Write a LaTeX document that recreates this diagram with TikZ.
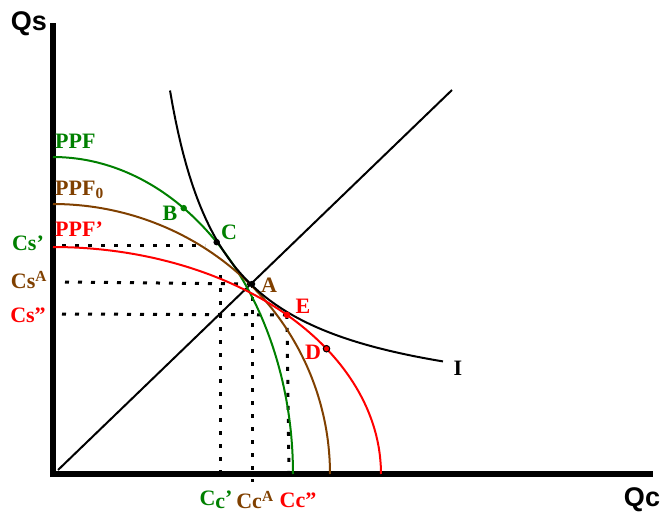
\documentclass[tikz,border=0pt]{standalone}
\usepackage{fontspec}
\setmainfont{Liberation Serif}
\setsansfont{Liberation Sans}
\usepackage{tikz}
\usetikzlibrary{positioning,calc}
\definecolor{ppfgreen}{RGB}{0,128,0}
\definecolor{ppfbrown}{RGB}{128,64,0}
\definecolor{ppfred}{RGB}{255,0,0}

\begin{document}
\begin{tikzpicture}[x=1pt, y=-1pt,
    axis/.style={line width=5.5pt, line cap=butt},
    curve/.style={line width=2pt},
    guide/.style={line width=3pt, dash pattern=on 4pt off 9pt},
    lbl/.style={inner sep=0pt, font=\fontsize{22}{24}\selectfont\bfseries},
    axlbl/.style={inner sep=0pt, font=\fontsize{27}{29}\selectfont\sffamily\bfseries},
    pt/.style={circle, inner sep=0pt, minimum size=6.5pt}
]
\useasboundingbox (0,0) rectangle (664,516);

% axes
\coordinate (O) at (53,474);
\coordinate (ytop) at (53,23);
\coordinate (xend) at (653,474);
\draw[axis] ($(O)+(0,3)$) -- (ytop);
\draw[axis] ($(O)+(-3,0)$) -- (xend);
\node[axlbl] (qs) at (29,24) {Qs};
\node[axlbl] (qc) at (642,500) {Qc};

% points
\coordinate (A) at (252,284);
\coordinate (B) at ({53+240*cos(57)},{474-317*sin(57)});
\coordinate (C) at ({53+240*cos(47)},{474-317*sin(47)});
\coordinate (D) at ({53+328*cos(33.5)},{474-227*sin(33.5)});
\coordinate (E) at ({53+328*cos(44.5)},{474-227*sin(44.5)});

% 45 degree line
\coordinate (r0) at (58,470);
\coordinate (r1) at (452,90);
\draw[line width=2pt] (r0) -- (r1);

% guide lines
\draw[guide] (62,245) -- (205,245);
\draw[guide] (65,282) -- (A);
\draw[guide] (62,314) -- (E);
\draw[guide] (220,275) -- (220,474);
\draw[guide] (A) -- (252,482);
\draw[guide] (E) -- (289,474);

% frontiers
\draw[curve, ppfgreen] plot[domain=0:90, samples=80] ({53+240*cos(\x)},{474-317*sin(\x)});
\draw[curve, ppfbrown] plot[domain=0:90, samples=80] ({53+277*cos(\x)},{474-270*sin(\x)});
\draw[curve, ppfred] plot[domain=0:90, samples=80] ({53+328*cos(\x)},{474-227*sin(\x)});

% indifference curve
\draw[curve, black] plot[domain=170:443, samples=100] (\x,{416-179/((\x-115)/100)});

% marked points
\node[pt, fill=ppfgreen] (ptB) at (B) {};
\node[pt, fill=black] (ptC) at (C) {};
\node[pt, fill=black] (ptA) at (A) {};
\node[pt, fill=ppfred] (ptE) at (E) {};
\node[pt, fill=ppfred, draw=black, line width=1pt] (ptD) at (D) {};

% labels
\node[lbl, ppfgreen, anchor=west] (lppf) at (55,141) {PPF};
\node[lbl, ppfbrown, anchor=west] (lppf0) at (55,190) {PPF\textsubscript{0}};
\node[lbl, ppfred, anchor=west] (lppf1) at (55,229) {PPF'};
\node[lbl, ppfgreen] (lcs1) at (28,243) {Cs'};
\node[lbl, ppfbrown] (lcsa) at (29,280) {Cs\textsuperscript{A}};
\node[lbl, ppfred] (lcs2) at (28,315) {Cs''};
\node[lbl, ppfgreen] (lB) at (170,213) {B};
\node[lbl, ppfgreen] (lC) at (229,232) {C};
\node[lbl, ppfbrown] (lA) at (269,285) {A};
\node[lbl, ppfred] (lE) at (303,306) {E};
\node[lbl, ppfred] (lD) at (313,352) {D};
\node[lbl, black] (lI) at (458,368) {I};
\node[lbl, ppfgreen] (lcc1) at (216,500) {C\raisebox{-3pt}{c}'};
\node[lbl, ppfbrown] (lcca) at (255,500) {Cc\textsuperscript{A}};
\node[lbl, ppfred] (lcc2) at (298,500) {Cc''};
\end{tikzpicture}
\end{document}
